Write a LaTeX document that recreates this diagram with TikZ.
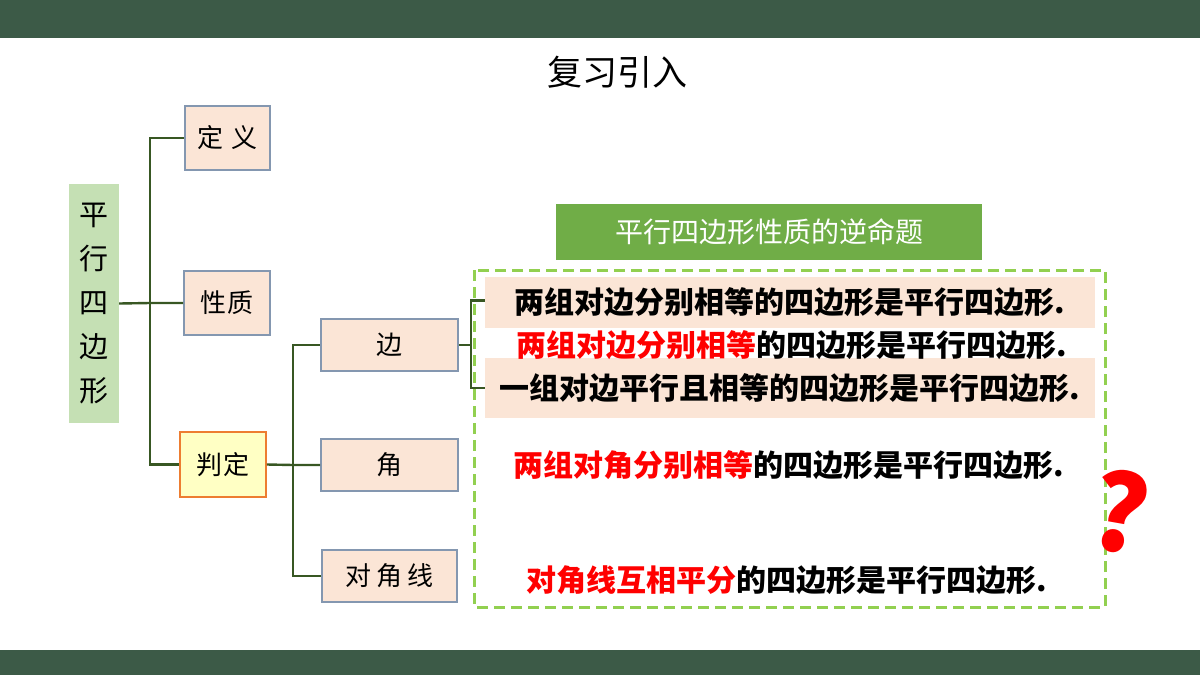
\documentclass[tikz,border=0pt]{standalone}
\usepackage{fontspec}
\usepackage{tikz}
\usepackage{xcolor}
\setmainfont{Noto Sans CJK SC}
\newfontfamily\cjk{Noto Sans CJK SC}

\definecolor{barGreen}{RGB}{60,90,71}
\definecolor{rootGreen}{RGB}{197,224,180}
\definecolor{boxPink}{RGB}{251,229,214}
\definecolor{boxEdge}{RGB}{132,151,176}
\definecolor{pdYellow}{RGB}{255,255,196}
\definecolor{pdOrange}{RGB}{237,125,49}
\definecolor{linkGreen}{RGB}{56,87,35}
\definecolor{headGreen}{RGB}{112,173,71}
\definecolor{dashGreen}{RGB}{146,208,80}

\tikzset{
  topic/.style={draw=boxEdge, line width=1.6pt, fill=boxPink, inner sep=0pt,
    font=\cjk\fontsize{26}{26}\selectfont},
  link/.style={draw=linkGreen, line width=2.4pt},
  stmt/.style={font=\cjk\bfseries\fontsize{30}{30}\selectfont, inner sep=0pt},
  band/.style={fill=boxPink, inner sep=0pt, minimum width=610pt}
}

\begin{document}
\begin{tikzpicture}[x=1pt, y=-1pt]
\useasboundingbox (0,0) rectangle (1200,675);
% bars
\fill[barGreen] (0,0) rectangle (1200,38);
\fill[barGreen] (0,650) rectangle (1200,675);
\node[font=\cjk\fontsize{35}{35}\selectfont] (title) at (617,72) {复习引入};

% tree on the left
\node[fill=rootGreen, minimum width=50pt, minimum height=239pt, align=center,
  font=\cjk\fontsize{29}{44}\selectfont] (root) at (94,303.5) {平\\行\\四\\边\\形};
\node[topic, minimum width=85pt, minimum height=64pt] (def) at (227.5,138) {定\hspace{8pt}义};
\node[topic, minimum width=86pt, minimum height=64pt] (xz) at (227,303) {性\hspace{2pt}质};
\node[topic, draw=pdOrange, fill=pdYellow, minimum width=86pt, minimum height=65pt] (pd) at (223,464.5) {判\hspace{2pt}定};
\node[topic, minimum width=137pt, minimum height=52pt] (bian) at (389.5,345) {边};
\node[topic, minimum width=137pt, minimum height=52pt] (jiao) at (389.5,465) {角};
\node[topic, minimum width=135pt, minimum height=52pt] (djx) at (389.5,576) {对\hspace{5pt}角\hspace{5pt}线};

\coordinate (j1) at (150,303);
\coordinate (j2) at (293,465);
\coordinate (j3) at (471,345);
\draw[link] (root.east) -- (j1) -- (xz.west);
\draw[link] (j1) |- (def.west);
\draw[link] (j1) |- (pd.west);
\draw[link] (pd.east) -- (j2) -- (jiao.west);
\draw[link] (j2) |- (bian.west);
\draw[link] (j2) |- (djx.west);

% converse statements
\node[fill=headGreen, minimum width=426pt, minimum height=56pt, text=white,
  font=\cjk\fontsize{28}{28}\selectfont] (head) at (769,232) {平行四边形性质的逆命题};
\draw[dashGreen, line width=3pt, dash pattern=on 11pt off 6pt] (474,270) rectangle (1105,607);
\node[band, minimum height=51pt] (s1) at (790,302.5) {};
\node[band, minimum height=60pt] (s3) at (790,388) {};
\node[stmt] at (s1) {两组对边分别相等的四边形是平行四边形.};
\node[stmt] (s2) at (792,345) {\textcolor{red}{两组对边分别相等}的四边形是平行四边形.};
\node[stmt] at (s3) {一组对边平行且相等的四边形是平行四边形.};
\node[stmt] (s4) at (789,465) {\textcolor{red}{两组对角分别相等}的四边形是平行四边形.};
\node[stmt] (s5) at (787,580) {\textcolor{red}{对角线互相平分}的四边形是平行四边形.};
\draw[link] (bian.east) -- (j3);
\draw[link] (j3) |- ([yshift=2pt]s1.west);
\draw[link] (j3) |- (s3.west);

\node[text=red, rotate=-10, font=\cjk\bfseries\fontsize{105}{105}\selectfont] (ask) at (1120,512) {?};
\end{tikzpicture}
\end{document}
